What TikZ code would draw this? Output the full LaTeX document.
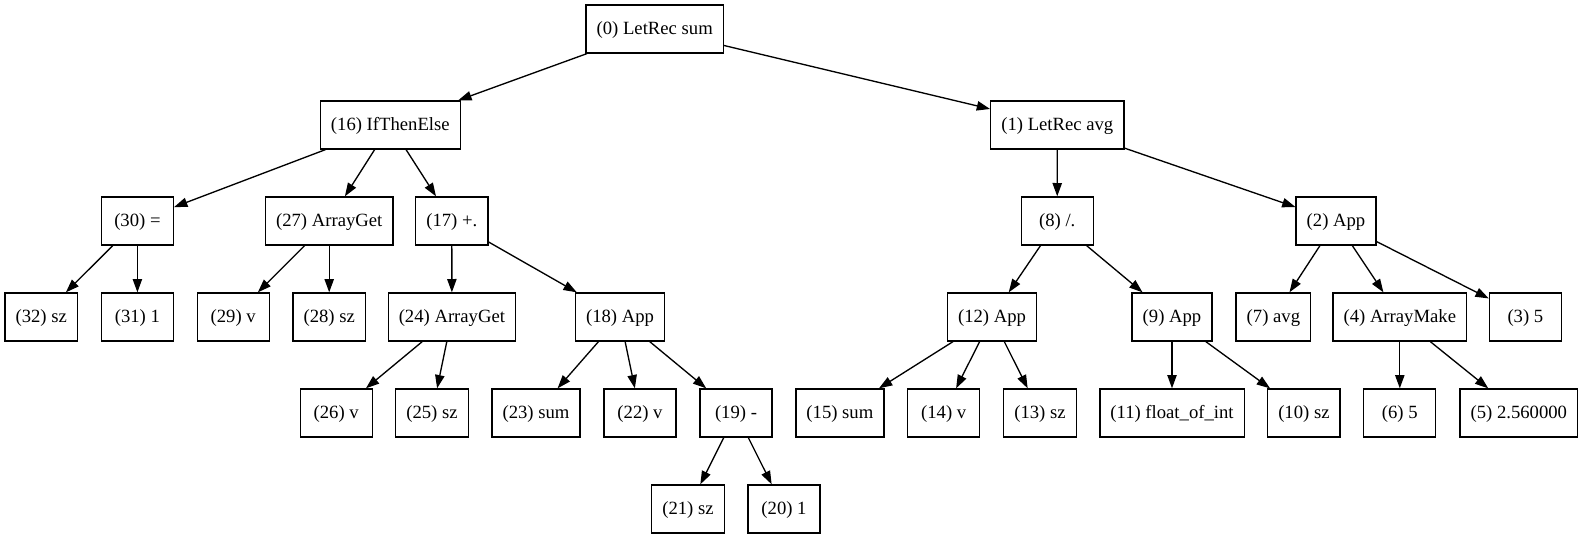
\documentclass[tikz,border=0pt]{standalone}
\usepackage{fontspec}
\setmainfont{Liberation Serif}
\usetikzlibrary{arrows.meta}
\begin{document}
\begin{tikzpicture}[x=0.75pt,y=-0.75pt,
  box/.style={draw=black,line width=1pt,rectangle,minimum height=36pt,minimum width=54pt,
    inner xsep=7.92pt,inner ysep=0pt,text height=8pt,text depth=0pt,
    font=\fontsize{14pt}{16pt}\selectfont,text=black},
  edge/.style={line width=1pt,draw=black,-{Triangle[length=10pt,width=7pt]}}]
\useasboundingbox (0,0) rectangle (1582,539);
% rank 0
\node[box] (n0) at (654.7,29) {(0) LetRec sum};
% rank 1
\node[box] (n16) at (390.3,125) {(16) IfThenElse};
\node[box] (n1) at (1057.3,125) {(1) LetRec avg};
% rank 2
\node[box] (n30) at (137.4,221) {(30) =};
\node[box] (n27) at (329.2,221) {(27) ArrayGet};
\node[box] (n17) at (451.8,221) {(17) +.};
\node[box] (n8) at (1057.2,221) {(8) /.};
\node[box] (n2) at (1336,221) {(2) App};
% rank 3
\node[box] (n32) at (41.2,317) {(32) sz};
\node[box] (n31) at (137.4,317) {(31) 1};
\node[box] (n29) at (233.2,317) {(29) v};
\node[box] (n28) at (329.2,317) {(28) sz};
\node[box] (n24) at (451.9,317) {(24) ArrayGet};
\node[box] (n18) at (620,317) {(18) App};
\node[box] (n12) at (992,317) {(12) App};
\node[box] (n9) at (1172,317) {(9) App};
\node[box] (n7) at (1273.4,317) {(7) avg};
\node[box] (n4) at (1399.8,317) {(4) ArrayMake};
\node[box] (n3) at (1525.4,317) {(3) 5};
% rank 4
\node[box] (n26) at (336.2,413) {(26) v};
\node[box] (n25) at (432,413) {(25) sz};
\node[box] (n23) at (536,413) {(23) sum};
\node[box] (n22) at (640,413) {(22) v};
\node[box] (n19) at (736,413) {(19) -};
\node[box] (n15) at (839.9,413) {(15) sum};
\node[box] (n14) at (943.7,413) {(14) v};
\node[box] (n13) at (1040,413) {(13) sz};
\node[box] (n11) at (1172,413) {(11) float\_of\_int};
\node[box] (n10) at (1303.9,413) {(10) sz};
\node[box] (n6) at (1399.8,413) {(6) 5};
\node[box] (n5) at (1518.8,413) {(5) 2.560000};
% rank 5
\node[box] (n21) at (688,509) {(21) sz};
\node[box] (n20) at (784,509) {(20) 1};
% edges
\draw[edge] (n0) -- (n16);
\draw[edge] (n0) -- (n1);
\draw[edge] (n16) -- (n30);
\draw[edge] (n16) -- (n27);
\draw[edge] (n16) -- (n17);
\draw[edge] (n30) -- (n32);
\draw[edge] (n30) -- (n31);
\draw[edge] (n27) -- (n29);
\draw[edge] (n27) -- (n28);
\draw[edge] (n17) -- (n24);
\draw[edge] (n17) -- (n18);
\draw[edge] (n24) -- (n26);
\draw[edge] (n24) -- (n25);
\draw[edge] (n18) -- (n23);
\draw[edge] (n18) -- (n22);
\draw[edge] (n18) -- (n19);
\draw[edge] (n19) -- (n21);
\draw[edge] (n19) -- (n20);
\draw[edge] (n1) -- (n8);
\draw[edge] (n1) -- (n2);
\draw[edge] (n8) -- (n12);
\draw[edge] (n8) -- (n9);
\draw[edge] (n12) -- (n15);
\draw[edge] (n12) -- (n14);
\draw[edge] (n12) -- (n13);
\draw[edge] (n9) -- (n11);
\draw[edge] (n9) -- (n10);
\draw[edge] (n2) -- (n7);
\draw[edge] (n2) -- (n4);
\draw[edge] (n2) -- (n3);
\draw[edge] (n4) -- (n6);
\draw[edge] (n4) -- (n5);
\end{tikzpicture}
\end{document}
